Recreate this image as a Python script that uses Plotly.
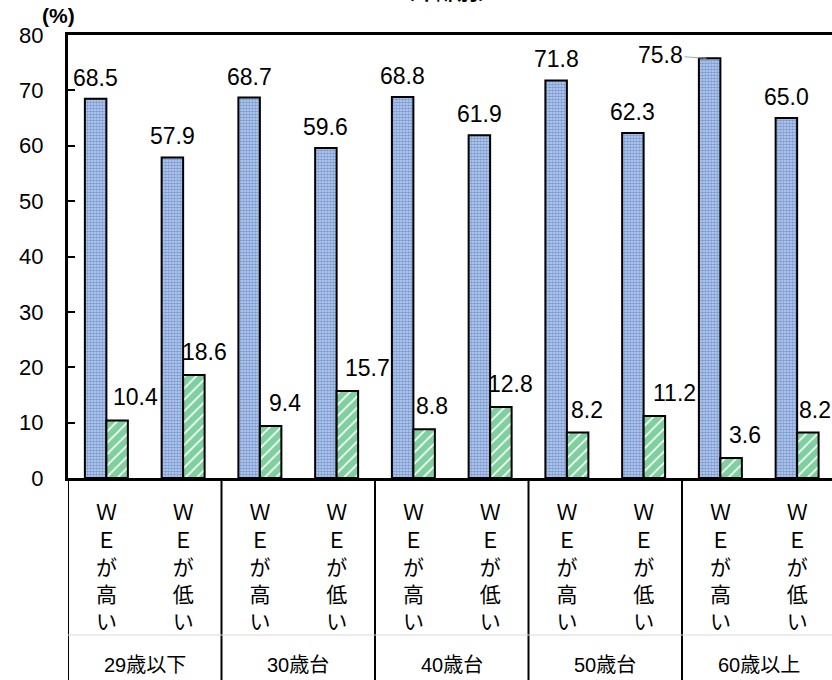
import plotly.graph_objects as go

# sub-categories along the x axis, two per age group
sub_labels = ["ＷＥが高い", "ＷＥが低い"] * 5
age_groups = ["29歳以下", "30歳台", "40歳台", "50歳台", "60歳以上"]

blue_values = [68.5, 57.9, 68.7, 59.6, 68.8, 61.9, 71.8, 62.3, 75.8, 65.0]
green_values = [10.4, 18.6, 9.4, 15.7, 8.8, 12.8, 8.2, 11.2, 3.6, 8.2]

y_ticks = [0, 10, 20, 30, 40, 50, 60, 70, 80]

# horizontal nudges (px) of the green value labels, as placed in the original
green_label_dx = [18, 11, 14, 20, 8, 10, 9, 20, 14, 7]

FONT = "Liberation Sans, Arial, Noto Sans CJK JP, sans-serif"
BAR_W = 0.28
PLOT_TOP, PLOT_BOTTOM = 35, 478
PLOT_H = PLOT_BOTTOM - PLOT_TOP
PLOT_L = 68
PLOT_W = 832 - PLOT_L
CAT_PX = 76.75

x_idx = list(range(len(sub_labels)))


def vertical_label(text: str) -> str:
    return "<br>".join(text)


fig = go.Figure()
fig.add_trace(
    go.Bar(
        x=x_idx,
        y=blue_values,
        width=BAR_W,
        offset=-BAR_W,
        marker=dict(
            color="white",
            line=dict(color="black", width=2),
            pattern=dict(shape=".", fgcolor="#3563b8", bgcolor="#c3d3ef", size=3, solidity=0.65),
        ),
        name="A",
    )
)
fig.add_trace(
    go.Bar(
        x=x_idx,
        y=green_values,
        width=BAR_W,
        offset=0,
        marker=dict(
            color="white",
            line=dict(color="black", width=2),
            pattern=dict(shape="/", fgcolor="#00a040", bgcolor="white", size=8, solidity=0.8),
        ),
        name="B",
    )
)

annotations = []
label_font = dict(family=FONT, size=23, color="black")
for i, v in enumerate(blue_values):
    if v > 74:
        # label does not fit above the bar: pulled to the left with a leader line
        annotations.append(dict(
            x=i - BAR_W * 0.65, y=v, text=f"{v:.1f}", showarrow=True, arrowhead=0,
            arrowcolor="#a6a6a6", arrowwidth=1, standoff=0, ax=-46, ay=-3,
            font=label_font,
        ))
    else:
        annotations.append(dict(
            x=i - BAR_W / 2, y=v, text=f"{v:.1f}", showarrow=False,
            yshift=21, font=label_font,
        ))
for i, v in enumerate(green_values):
    annotations.append(dict(
        x=i + BAR_W / 2, y=v, text=f"{v:.1f}", showarrow=False,
        xshift=green_label_dx[i], yshift=23, font=label_font,
    ))

# age group labels under the sub-category labels
for g, name in enumerate(age_groups):
    annotations.append(dict(
        x=2 * g + 0.5, xref="x", y=-(665 - PLOT_BOTTOM) / PLOT_H, yref="paper",
        xanchor="center", yanchor="middle",
        text=name, showarrow=False, font=dict(family=FONT, size=20, color="black"),
    ))

annotations.append(dict(
    x=(58 - PLOT_L) / PLOT_W, xref="paper", y=1 + (PLOT_TOP - 16) / PLOT_H, yref="paper",
    xanchor="center", yanchor="middle",
    text="<b>(%)</b>", showarrow=False, font=dict(family=FONT, size=21, color="black"),
))
# chart title, cut off by the top edge as in the original
annotations.append(dict(
    x=(446 - PLOT_L) / PLOT_W, xref="paper", y=1 + (PLOT_TOP - 5) / PLOT_H, yref="paper",
    xanchor="center", yanchor="bottom", text="<b>（年齢別）</b>", showarrow=False,
    font=dict(family=FONT, size=21, color="black"),
))

shapes = []
# table lines below the axis
for b in range(len(age_groups) + 1):
    shapes.append(dict(
        type="line", xref="x", yref="paper", x0=2 * b - 0.5, x1=2 * b - 0.5,
        y0=-(680 - PLOT_BOTTOM) / PLOT_H, y1=0, line=dict(color="black", width=2),
    ))
shapes.append(dict(
    type="line", xref="paper", yref="paper", x0=0, x1=1,
    y0=-(635 - PLOT_BOTTOM) / PLOT_H, y1=-(635 - PLOT_BOTTOM) / PLOT_H,
    line=dict(color="#d9d9d9", width=1),
))

fig.update_layout(
    width=832,
    height=680,
    margin=dict(l=PLOT_L, r=0, t=PLOT_TOP, b=680 - PLOT_BOTTOM, pad=0),
    paper_bgcolor="white",
    plot_bgcolor="white",
    showlegend=False,
    font=dict(family=FONT, color="black"),
    annotations=annotations,
    shapes=shapes,
    xaxis=dict(
        range=[-0.5, -0.5 + PLOT_W / CAT_PX],
        tickmode="array",
        tickvals=x_idx,
        ticktext=[vertical_label(t) for t in sub_labels],
        tickfont=dict(family=FONT, size=21, color="black"),
        ticks="",
        ticklabelstandoff=14,
        showline=True,
        linecolor="black",
        linewidth=3,
        mirror=True,
        showgrid=False,
        zeroline=False,
        automargin=False,
    ),
    yaxis=dict(
        range=[0, 80],
        tickmode="array",
        tickvals=y_ticks,
        tickfont=dict(family=FONT, size=22, color="black"),
        ticks="inside",
        ticklen=7,
        tickwidth=1.5,
        tickcolor="black",
        ticklabelstandoff=17,
        showline=True,
        linecolor="black",
        linewidth=3,
        showgrid=False,
        zeroline=False,
        automargin=False,
    ),
)

fig.write_html(
    "out.html",
    config={"displayModeBar": False},
    post_script="document.body.style.margin='0'; document.body.style.overflow='hidden';",
)
